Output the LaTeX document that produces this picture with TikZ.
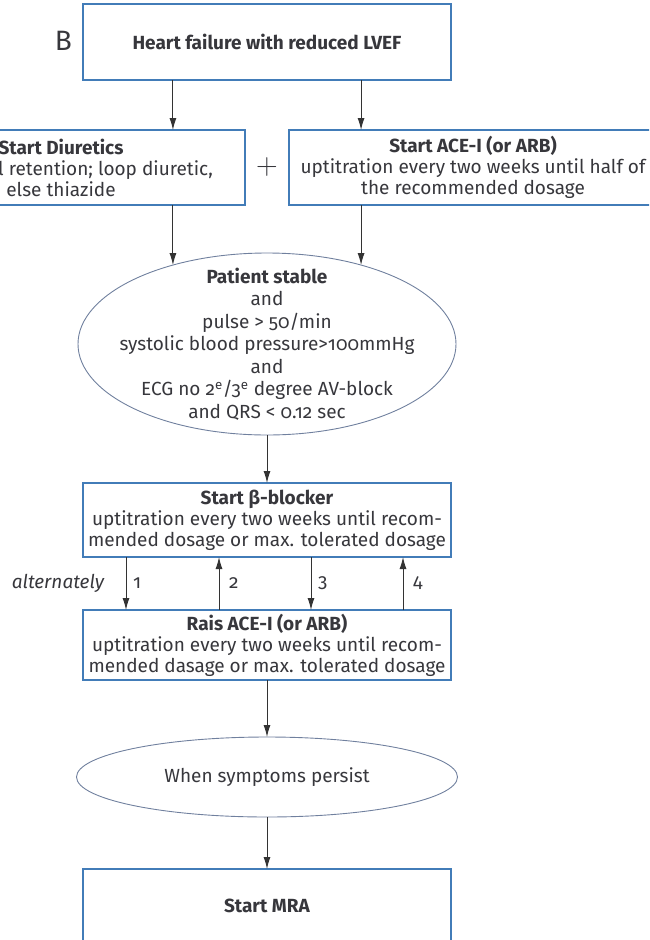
\documentclass[tikz,border=0pt]{standalone}
\usepackage{fontspec}
\setmainfont{Fira Sans}[Numbers=OldStyle]
\newfontfamily\plusfont{Latin Modern Roman}
\usepackage{tikz}
\usetikzlibrary{positioning,shapes.geometric,arrows.meta,calc}

\definecolor{boxblue}{RGB}{66,124,184}
\definecolor{ellgrey}{RGB}{112,128,158}
\definecolor{txtgrey}{RGB}{55,55,60}

\begin{document}
\begin{tikzpicture}[x=1pt, y=-1pt,
      every node/.style={font=\fontsize{19}{21}\selectfont, align=center,
                         text=txtgrey, inner sep=0pt, outer sep=0pt},
      box/.style={draw=boxblue, line width=1.1pt, fill=white,
                  minimum width=368pt},
      cond/.style={ellipse, draw=ellgrey, line width=0.9pt,
                   inner xsep=-25pt, inner ysep=-40pt},
      arrow/.style={-{Latex[length=12pt,width=7pt]}, line width=1pt, draw=black!80},
  ]
    \useasboundingbox (0,0) rectangle (649,940);
    \clip (0,0) rectangle (649,940);

    % Row 1: start
    \node[box, minimum height=76pt] (hf) at (267,42)
      {\textbf{Heart failure with reduced LVEF}};
    \node[font=\fontsize{28}{28}\selectfont, left=11pt of hf.west, yshift=1pt] (lbl) {B};

    % Row 2: two starting drugs
    \node[box, minimum height=75pt, below=50pt of hf, xshift=-206pt] (diur)
      {\textbf{Start Diuretics}\\\makebox[304pt][r]{l retention; loop diuretic,}\\else thiazide};
    \node[box, minimum height=75pt, below=50pt of hf, xshift=206pt] (ace)
      {\textbf{Start ACE-I (or ARB)}\\uptitration every two weeks until half of\\the recommended dosage};
    \node[font=\fontsize{30}{30}\selectfont\plusfont] (plus) at ($(diur.east)!0.5!(ace.west)$) {+};

    % Row 3: check
    \node[cond, minimum width=378pt, minimum height=182pt,
          font=\fontsize{19}{22.5}\selectfont, below=173pt of hf] (stable)
      {\textbf{Patient stable}\\and\\pulse > 50/min\\systolic blood pressure>100mmHg\\and\\
       ECG no 2\textsuperscript{e}/3\textsuperscript{e} degree AV-block\\and QRS < 0.12 sec};
    \draw[arrow] (stable.140 |- hf.south) -- (stable.140 |- diur.north);
    \draw[arrow] (stable.40 |- hf.south) -- (stable.40 |- ace.north);
    \draw[arrow] (stable.140 |- diur.south) -- (stable.140);
    \draw[arrow] (stable.40 |- ace.south) -- (stable.40);

    % Row 4: beta-blocker and ACE-I, alternately
    \node[box, minimum height=74pt, below=48pt of stable.south -| hf.south] (beta)
      {\textbf{Start β-blocker}\\uptitration every two weeks until recom-\\mended dosage or max. tolerated dosage};
    \node[box, minimum height=70pt, below=53pt of beta] (rais)
      {\textbf{Rais ACE-I (or ARB)}\\uptitration every two weeks until recom-\\mended dasage or max. tolerated dosage};
    \draw[arrow] (stable.south -| beta.north) -- (beta.north);
    \foreach \dx/\num/\up in {-141/1/0, -48/2/1, 44/3/0, 136/4/1} {
      \ifnum\up=0
        \draw[arrow] ([xshift=\dx pt]beta.south) -- ([xshift=\dx pt]rais.north)
          node[midway, right=7pt] (n\num) {\num};
      \else
        \draw[arrow] ([xshift=\dx pt]rais.north) -- ([xshift=\dx pt]beta.south)
          node[midway, right=10pt] (n\num) {\num};
      \fi
    }
    \node[font=\fontsize{19}{21}\selectfont\itshape, left=29pt of n1.west] (alt) {alternately};

    % Row 5: persistence, MRA
    \node[cond, minimum width=381pt, minimum height=80pt, below=57pt of rais] (persist)
      {When symptoms persist};
    \node[box, minimum height=74pt, below=52pt of persist] (mra) {\textbf{Start MRA}};
    \draw[arrow] (rais.south) -- (persist.north);
    \draw[arrow] (persist.south) -- (mra.north);
\end{tikzpicture}
\end{document}
